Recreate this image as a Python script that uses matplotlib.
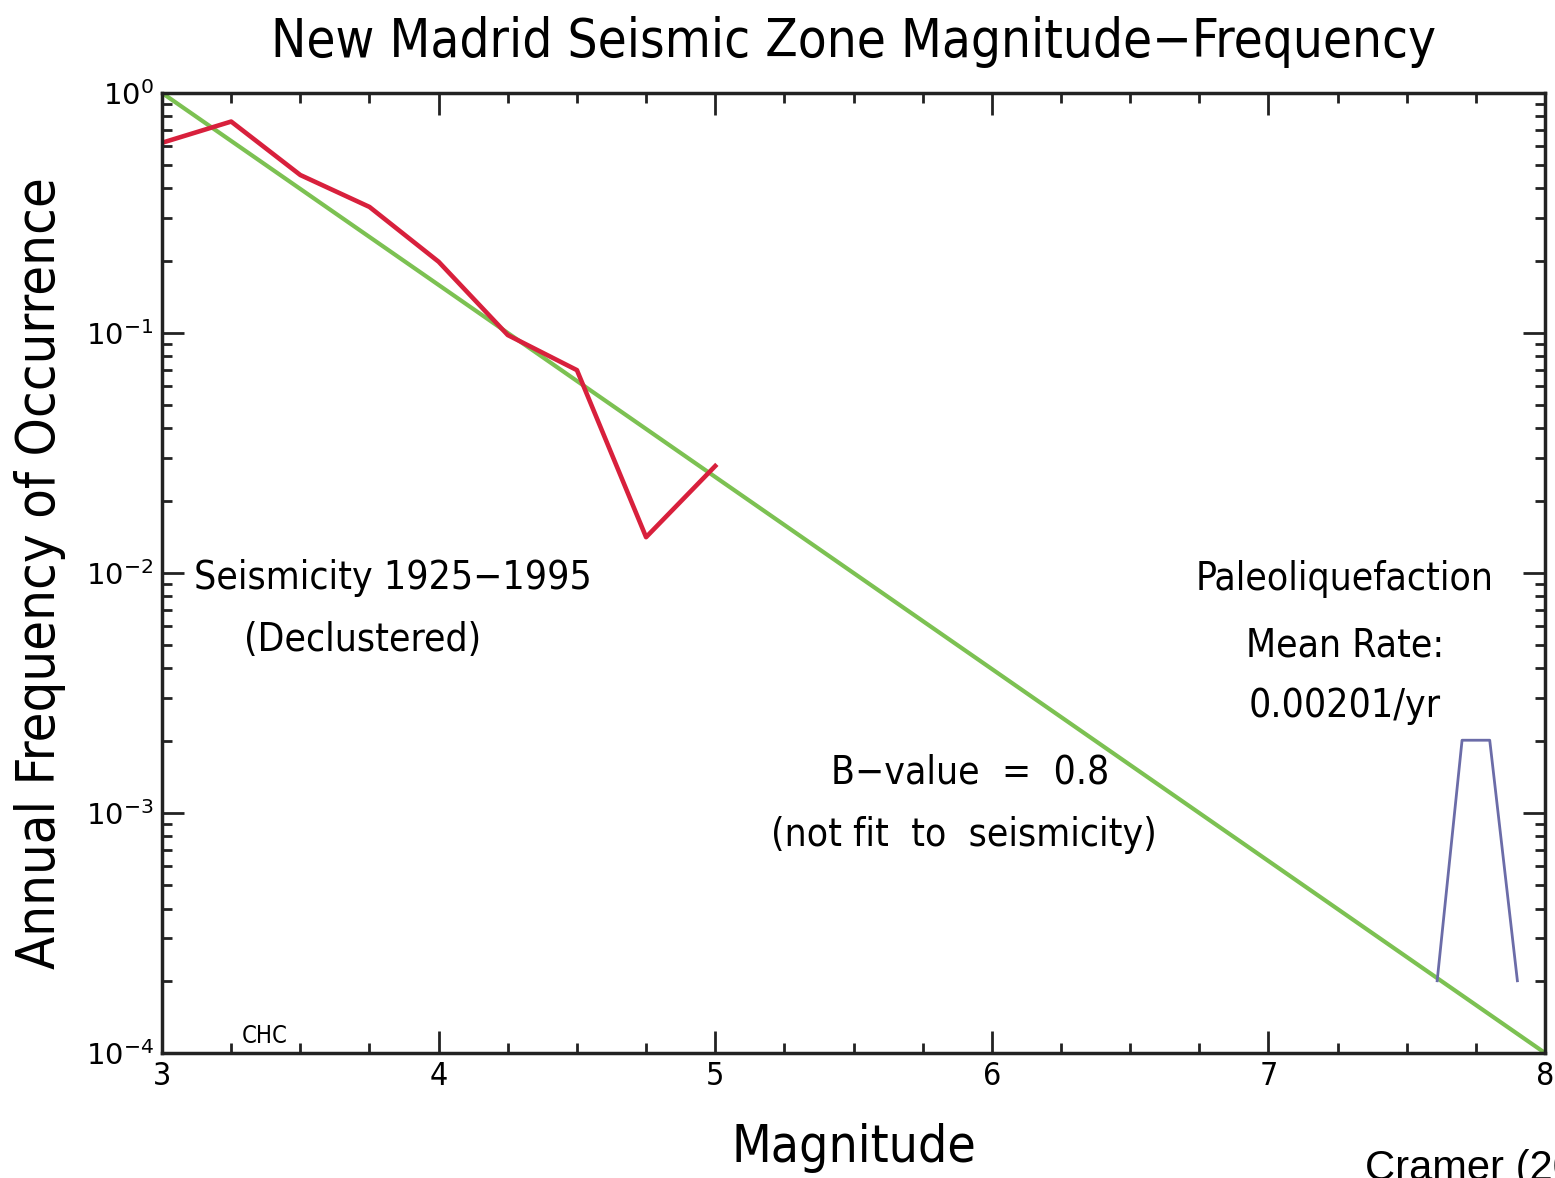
import matplotlib
matplotlib.use("Agg")
import matplotlib.pyplot as plt
from matplotlib.ticker import FixedLocator, LogLocator, NullFormatter

# declustered seismicity 1925-1995
seis_mag = [3.0, 3.25, 3.5, 3.75, 4.0, 4.25, 4.5, 4.75, 5.0]
seis_rate = [0.62, 0.76, 0.455, 0.335, 0.198, 0.098, 0.070, 0.0141, 0.0279]

# b-value = 0.8 line (end points)
bval_mag = [3.0, 8.0]
bval_rate = [1.0, 1.0e-4]

# paleoliquefaction mean rate
paleo_mag = [7.61, 7.70, 7.80, 7.90]
paleo_rate = [2.0e-4, 2.01e-3, 2.01e-3, 2.0e-4]

xticks = [3, 4, 5, 6, 7, 8]
yticks = [1e-4, 1e-3, 1e-2, 1e-1, 1e0]
ylabels = ["$10^{-4}$", "$10^{-3}$", "$10^{-2}$", "$10^{-1}$", "$10^{0}$"]

font = {"family": "DejaVu Sans", "stretch": "condensed"}

fig = plt.figure(figsize=(15.55, 11.78), dpi=100)
ax = fig.add_axes([0.1042, 0.1061, 0.8894, 0.8150])

ax.plot(bval_mag, bval_rate, color="#7cc152", lw=3)
ax.plot(seis_mag, seis_rate, color="#d8203c", lw=3.3)
ax.plot(paleo_mag, paleo_rate, color="#6b6ca8", lw=2)

ax.set_yscale("log")
ax.set_xlim(3, 8)
ax.set_ylim(1e-4, 1)

ax.xaxis.set_major_locator(FixedLocator(xticks))
ax.xaxis.set_minor_locator(FixedLocator([3 + 0.25 * i for i in range(21)]))
ax.set_yticks(yticks)
ax.set_yticklabels(ylabels, fontsize=21)
ax.yaxis.set_minor_locator(LogLocator(base=10, subs=range(2, 10)))
ax.yaxis.set_minor_formatter(NullFormatter())
ax.set_xticklabels([str(t) for t in xticks], fontsize=23, **font)

ax.tick_params(which="both", direction="in", top=True, right=True, width=2, color="#222222")
ax.tick_params(which="major", length=16, pad=6)
ax.tick_params(which="minor", length=7)
for s in ax.spines.values():
    s.set_linewidth(2.5)
    s.set_color("#222222")

ax.set_title("New Madrid Seismic Zone Magnitude\u2212Frequency", fontsize=38, pad=26, **font)
ax.set_xlabel("Magnitude", fontsize=37, labelpad=22, **font)
ax.set_ylabel("Annual Frequency of Occurrence", fontsize=39, labelpad=14, **font)

ax.text(3.835, 9.5e-3, "Seismicity 1925\u22121995", fontsize=28, ha="center", va="center", **font)
ax.text(3.725, 5.25e-3, "(Declustered)", fontsize=28, ha="center", va="center", **font)
ax.text(5.92, 1.48e-3, "B\u2212value  =  0.8", fontsize=28, ha="center", va="center", **font)
ax.text(5.9, 8.1e-4, "(not fit  to  seismicity)", fontsize=28, ha="center", va="center", **font)
ax.text(7.277, 9.4e-3, "Paleoliquefaction", fontsize=28, ha="center", va="center", **font)
ax.text(7.277, 5.0e-3, "Mean Rate:", fontsize=28, ha="center", va="center", **font)
ax.text(7.277, 2.8e-3, "0.00201/yr", fontsize=28, ha="center", va="center", **font)
ax.text(3.37, 1.05e-4, "CHC", fontsize=17, ha="center", va="bottom", **font)

fig.text(1365 / 1555, 1 - 1180 / 1178, "Cramer (2009)", fontsize=30, family="Liberation Sans", va="baseline")

fig.savefig("out.png", dpi=100)
